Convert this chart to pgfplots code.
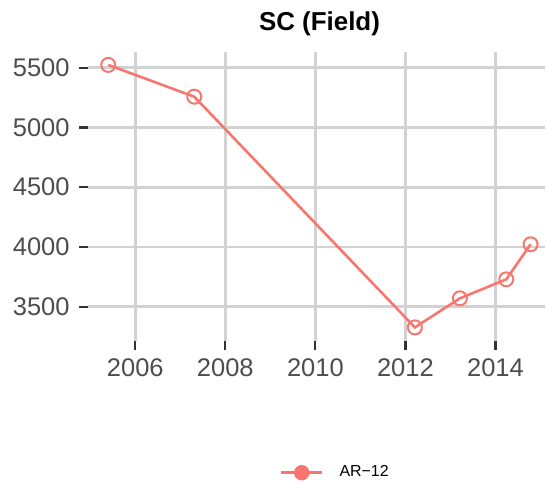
\documentclass[border=0pt]{standalone}
\usepackage{fontspec}
\setmainfont{Liberation Sans}
\usepackage{pgfplots}
\pgfplotsset{compat=1.18}
\definecolor{arred}{HTML}{F8766D}
\definecolor{gridgray}{HTML}{D2D2D2}
\definecolor{ticklab}{HTML}{4D4D4D}
\definecolor{tickmark}{HTML}{333333}
\begin{document}
\begin{tikzpicture}
\path[use as bounding box] (-44bp,-71bp) rectangle (229.5bp,170.5bp);
\begin{axis}[
    scale only axis,
    width=228.5bp, height=144.5bp,
    at={(0,0)}, anchor=south west,
    xmin=2004.95, xmax=2015.1,
    ymin=3213, ymax=5631,
    xtick={2006,2008,2010,2012,2014},
    ytick={3500,4000,4500,5000,5500},
    grid=major,
    grid style={gridgray, line width=1.4bp},
    axis line style={draw=none},
    tick align=outside,
    major tick length=4.5bp,
    tick style={tickmark, line width=1.1bp},
    xtick pos=bottom, ytick pos=left,
    /pgf/number format/assume math mode=true,
    /pgf/number format/1000 sep={},
    xticklabel style={font=\fontsize{12.8}{14}\selectfont, color=ticklab, anchor=base, inner sep=0pt, yshift=-13.35bp},
    yticklabel style={font=\fontsize{12.8}{14}\selectfont, color=ticklab, anchor=east, inner sep=0pt, xshift=-4.5bp},
    title={SC (Field)},
    title style={at={(0.5066,1.0346)}, anchor=base, inner sep=0pt,
        font=\bfseries\fontsize{13}{15}\selectfont},
    legend style={at={(0.42,-0.4557)}, anchor=west, draw=none, fill=none,
        inner sep=0pt, outer sep=0pt,
        font=\fontsize{8}{9}\selectfont,
        /tikz/every odd column/.append style={column sep=6bp}},
    legend cell align=left,
]
\addlegendimage{arred, line width=1.3bp, mark=*, mark size=3.2bp,
    legend image code/.code={\draw[mark repeat=2, mark phase=2] plot coordinates {(0bp,0bp) (10.25bp,0bp) (20.5bp,0bp)};}}
\addlegendentry{AR−12}
\addplot[arred, line width=1.3bp, mark=o, mark size=3.5bp,
    mark options={line width=1bp, fill=none}, forget plot] coordinates {
    (2005.40,5523) (2007.31,5257) (2012.21,3327) (2013.21,3570) (2014.24,3729) (2014.78,4022)
};
\end{axis}
\end{tikzpicture}
\end{document}
